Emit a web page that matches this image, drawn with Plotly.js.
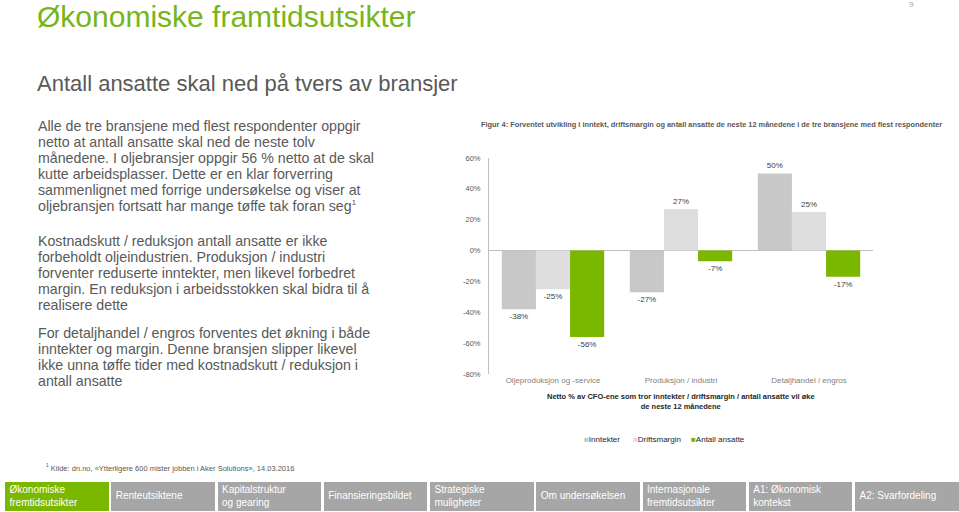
<!DOCTYPE html>
<html><head><meta charset="utf-8">
<script src="https://cdn.plot.ly/plotly-3.0.1.min.js"></script>
<style>
html,body{margin:0;padding:0;background:#fff;width:959px;height:512px;overflow:hidden;font-family:"Liberation Sans",Arial,sans-serif;}
#chart{position:absolute;left:0;top:0;width:959px;height:512px;}
.abs{position:absolute;white-space:nowrap;}
#title{left:37px;top:2px;font-size:30px;line-height:30px;color:#77b51b;}
#sub{left:37px;top:73px;font-size:22px;line-height:22px;color:#595959;}
.para{left:38px;font-size:14.2px;line-height:16px;color:#595959;}
.para sup{font-size:8px;line-height:0;vertical-align:6px;}
#fn{left:46px;top:461px;font-size:7.5px;line-height:9px;color:#595959;}
#pg{left:909px;top:0px;font-size:8px;color:#a6a6a6;}
.nav{position:absolute;top:482px;height:29px;width:103.5px;background:#a6a6a6;color:#fff;font-size:10px;line-height:12.5px;display:flex;align-items:center;padding-left:4.5px;box-sizing:border-box;white-space:nowrap;}
</style>
</head><body>
<div id="chart"></div>
<div class="abs" id="title">Økonomiske framtidsutsikter</div>
<div class="abs" id="pg">9</div>
<div class="abs" id="sub">Antall ansatte skal ned på tvers av bransjer</div>
<div class="abs para" style="top:118px">Alle de tre bransjene med flest respondenter oppgir<br>netto at antall ansatte skal ned de neste tolv<br>månedene. I oljebransjer oppgir 56 % netto at de skal<br>kutte arbeidsplasser. Dette er en klar forverring<br>sammenlignet med forrige undersøkelse og viser at<br>oljebransjen fortsatt har mange tøffe tak foran seg<sup>1</sup></div>
<div class="abs para" style="top:233px">Kostnadskutt / reduksjon antall ansatte er ikke<br>forbeholdt oljeindustrien. Produksjon / industri<br>forventer reduserte inntekter, men likevel forbedret<br>margin. En reduksjon i arbeidsstokken skal bidra til å<br>realisere dette</div>
<div class="abs para" style="top:325px">For detaljhandel / engros forventes det økning i både<br>inntekter og margin. Denne bransjen slipper likevel<br>ikke unna tøffe tider med kostnadskutt / reduksjon i<br>antall ansatte</div>
<div class="abs" id="fn"><sup style="font-size:5px">1</sup> Kilde: dn.no, «Ytterligere 600 mister jobben i Aker Solutions», 14.03.2016</div>
<div id="nav"></div>
<script>
const categories = ['Oljeproduksjon og -service', 'Produksjon / industri', 'Detaljhandel / engros'];
const seriesNames = ['Inntekter', 'Driftsmargin', 'Antall ansatte'];
const inntekter = [-38, -27, 50];
const driftsmargin = [-25, 27, 25];
const antallAnsatte = [-56, -7, -17];
const yTickVals = [-80, -60, -40, -20, 0, 20, 40, 60];
const navLabels = ['Økonomiske<br>fremtidsutsikter', 'Renteutsiktene', 'Kapitalstruktur<br>og gearing', 'Finansieringsbildet', 'Strategiske<br>muligheter', 'Om undersøkelsen', 'Internasjonale<br>fremtidsutsikter', 'A1: Økonomisk<br>kontekst', 'A2: Svarfordeling'];

const FONT = '"Liberation Sans", Arial, sans-serif';
const colors = ['#c8c8c8', '#dedede', '#7ab800'];
const seriesValues = [inntekter, driftsmargin, antallAnsatte];

const nav = document.getElementById('nav');
navLabels.forEach((t, i) => {
  const d = document.createElement('div');
  d.className = 'nav';
  d.style.left = (5 + i * 106.25) + 'px';
  if (i === 0) d.style.background = '#7ab800';
  d.innerHTML = '<span>' + t + '</span>';
  nav.appendChild(d);
});

const legendIds = ['legend', 'legend2', 'legend3'];
const legendLeftPx = [584, 633, 691];   // where each legend entry (its square) starts
const plotL = 489, plotW = 384;

const traces = [];
seriesValues.forEach((vals, i) => {
  traces.push({
    type: 'bar', x: categories, y: vals, name: seriesNames[i],
    legendgroup: 'g' + i, showlegend: false,
    marker: {color: colors[i], line: {width: 0}},
    text: vals.map(v => v + '%'), textposition: 'outside', cliponaxis: false,
    textfont: {family: FONT, size: 8, color: '#404040'},
    hoverinfo: 'skip'
  });
});
seriesNames.forEach((n, i) => {
  traces.push({
    type: 'scatter', mode: 'markers', x: [null], y: [null],
    name: '<span style="color:' + colors[i] + '">■</span>' + n,
    legend: legendIds[i], legendgroup: 'g' + i, showlegend: true,
    marker: {symbol: 'square', size: 1, color: 'rgba(0,0,0,0)'}
  });
});

const layout = {
  width: 959, height: 512,
  margin: {l: 489, r: 86, t: 158, b: 138, pad: 0},
  paper_bgcolor: 'rgba(0,0,0,0)', plot_bgcolor: 'rgba(0,0,0,0)',
  barmode: 'group', bargap: 0.2, bargroupgap: 0,
  font: {family: FONT, color: '#595959'},
  title: {
    text: '<b>Figur 4: Forventet utvikling i inntekt, driftsmargin og antall ansatte de neste 12 månedene i de tre bransjene med flest respondenter</b>',
    font: {family: FONT, size: 7.4, color: '#595959'},
    xref: 'container', yref: 'container', x: 481 / 959, xanchor: 'left', y: 1 - 124 / 512, yanchor: 'middle'
  },
  xaxis: {
    type: 'category', showline: false, showgrid: false, zeroline: false, ticks: '',
    tickfont: {family: FONT, size: 8, color: '#7f7f7f'}, fixedrange: true
  },
  yaxis: {
    range: [-80, 60], tickvals: yTickVals, ticktext: yTickVals.map(v => v + '%'),
    showline: true, linecolor: '#bfbfbf', linewidth: 1, showgrid: false,
    zeroline: true, zerolinecolor: '#bfbfbf', zerolinewidth: 1, ticks: '',
    ticklabelstandoff: 6,
    tickfont: {family: FONT, size: 7.5, color: '#595959'}, fixedrange: true
  },
  showlegend: true,
  annotations: [{
    xref: 'paper', yref: 'paper', x: 0.5, y: 0, yanchor: 'top', yshift: -16, showarrow: false,
    text: '<b>Netto % av CFO-ene som tror inntekter / driftsmargin / antall ansatte vil øke<br>de neste 12 månedene</b>',
    font: {family: FONT, size: 7.5, color: '#262626'}, align: 'center'
  }]
};
legendIds.forEach((id, i) => {
  layout[id] = {
    orientation: 'h', x: (legendLeftPx[i] - 40 - plotL) / plotW, xanchor: 'left',
    y: -65 / 216, yanchor: 'middle',
    font: {family: FONT, size: 8, color: '#262626'}, itemwidth: 30,
    bgcolor: 'rgba(0,0,0,0)', borderwidth: 0
  };
});

Plotly.newPlot('chart', traces, layout, {displayModeBar: false, staticPlot: true});
</script>
</body></html>
